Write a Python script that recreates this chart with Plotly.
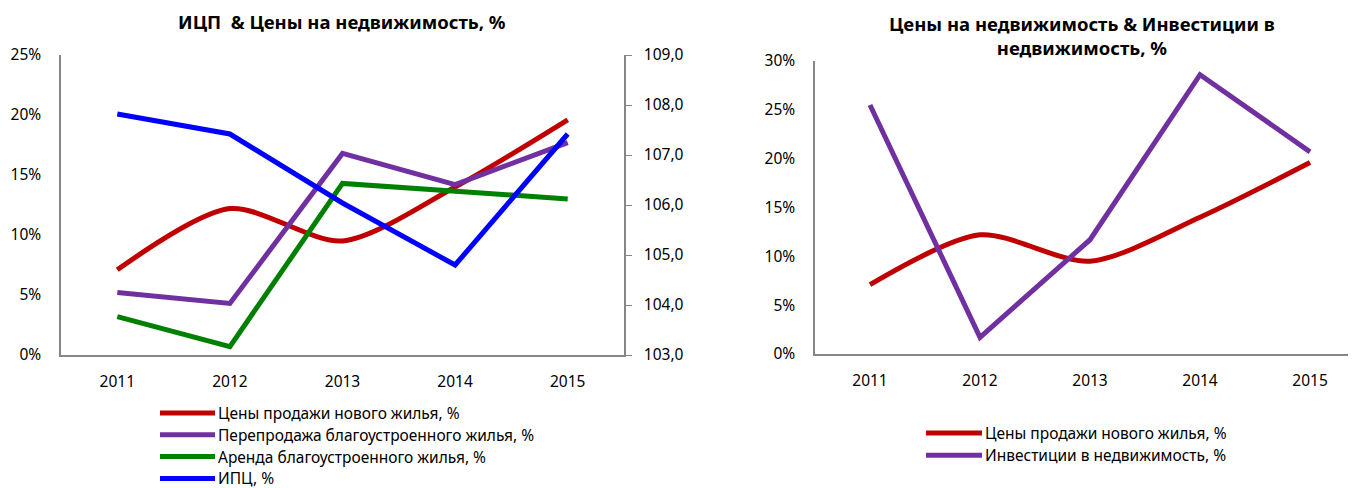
import plotly.graph_objects as go

years = ["2011", "2012", "2013", "2014", "2015"]
new_housing = [7.1, 12.2, 9.5, 14.0, 19.6]
resale = [5.2, 4.3, 16.8, 14.2, 17.7]
rent = [3.2, 0.7, 14.3, 13.7, 13.0]
cpi = [107.82, 107.42, 106.04, 104.80, 107.42]
investment = [25.5, 1.7, 11.7, 28.6, 20.7]

names_left = ["Цены продажи нового жилья, %", "Перепродажа благоустроенного жилья, %",
              "Аренда благоустроенного жилья, %", "ИПЦ, %"]
names_right = ["Цены продажи нового жилья, %", "Инвестиции в недвижимость, %"]

RED = "#C00000"
PURPLE = "#7030A0"
GREEN = "#008000"
BLUE = "#0000FF"
AX = "#868686"
FONT = "Noto Sans"

# the page body has an 8px margin; the figure is sized to fill the rest of the window
OFF = 8
W, H = 1356 - OFF, 488 - OFF

def px(x):
    return (x - OFF) / W

def py(y):
    return 1 - (y - OFF) / H

colors_left = [RED, PURPLE, GREEN, BLUE]
colors_right = [RED, PURPLE]

fig = go.Figure()
fig.add_trace(go.Scatter(x=years, y=new_housing, name=names_left[0], mode="lines",
                         line=dict(color=RED, width=5, shape="spline", smoothing=0.8),
                         xaxis="x", yaxis="y"))
fig.add_trace(go.Scatter(x=years, y=resale, name=names_left[1], mode="lines",
                         line=dict(color=PURPLE, width=5), xaxis="x", yaxis="y"))
fig.add_trace(go.Scatter(x=years, y=rent, name=names_left[2], mode="lines",
                         line=dict(color=GREEN, width=5), xaxis="x", yaxis="y"))
fig.add_trace(go.Scatter(x=years, y=cpi, name=names_left[3], mode="lines",
                         line=dict(color=BLUE, width=5), xaxis="x", yaxis="y2"))
fig.add_trace(go.Scatter(x=years, y=new_housing, name=names_right[0], mode="lines",
                         line=dict(color=RED, width=5, shape="spline", smoothing=0.8),
                         xaxis="x3", yaxis="y3"))
fig.add_trace(go.Scatter(x=years, y=investment, name=names_right[1], mode="lines",
                         line=dict(color=PURPLE, width=5), xaxis="x3", yaxis="y3"))

tick_font = dict(family=FONT, size=15.5, color="#000000")

# custom legends (sample line + label) in paper coordinates
shapes = []
annotations = []
def add_legend(names, colors, x0, x1, xt, y_first, step):
    for i, (n, c) in enumerate(zip(names, colors)):
        yy = py(y_first + i * step)
        shapes.append(dict(type="line", xref="paper", yref="paper", x0=px(x0), x1=px(x1),
                           y0=yy, y1=yy, line=dict(color=c, width=5)))
        annotations.append(dict(text=n, xref="paper", yref="paper", x=px(xt), y=yy,
                                xanchor="left", yanchor="middle", showarrow=False,
                                font=dict(family=FONT, size=15.5, color="#000000")))

add_legend(names_left, colors_left, 160, 215, 216, 413, 21.8)
add_legend(names_right, colors_right, 926, 982, 983, 433, 22.3)

annotations.append(dict(text="<b>ИЦП  & Цены на недвижимость, %</b>", xref="paper", yref="paper",
                        x=px(342), y=py(21), xanchor="center", yanchor="middle", showarrow=False,
                        font=dict(family=FONT, size=18.5, color="#000000")))
annotations.append(dict(text="<b>Цены на недвижимость & Инвестиции в<br>недвижимость, %</b>",
                        xref="paper", yref="paper", x=px(1082), y=py(35),
                        xanchor="center", yanchor="middle", showarrow=False,
                        font=dict(family=FONT, size=18.5, color="#000000")))

fig.update_layout(
    width=W, height=H,
    margin=dict(l=0, r=0, t=0, b=0, pad=0, autoexpand=False),
    paper_bgcolor="white", plot_bgcolor="white",
    separators=", ",
    font=dict(family=FONT, size=15.5, color="#000000"),
    showlegend=False,
    xaxis=dict(domain=[px(61), px(624)], type="category", range=[-0.5, 4.5],
               showline=True, linecolor=AX, linewidth=1.5, ticks="", showgrid=False,
               tickfont=tick_font, ticklabelstandoff=12, anchor="y", automargin=False),
    yaxis=dict(domain=[py(355), py(55)], range=[0, 25], dtick=5, ticksuffix="%",
               showline=True, linecolor=AX, linewidth=1.5, ticks="", showgrid=False,
               zeroline=False, tickfont=tick_font, ticklabelstandoff=15, anchor="x", automargin=False),
    yaxis2=dict(overlaying="y", side="right", range=[103, 109], dtick=1, tickformat=".1f",
                showline=True, linecolor=AX, linewidth=1.5, ticks="outside", ticklen=6,
                tickcolor=AX, showgrid=False, zeroline=False, tickfont=tick_font,
                ticklabelstandoff=9, anchor="x", automargin=False),
    xaxis3=dict(domain=[px(815), 1.0], type="category", range=[-0.5, 4.418],
                showline=True, linecolor=AX, linewidth=1.5, ticks="", showgrid=False,
                tickfont=tick_font, ticklabelstandoff=12, anchor="y3", automargin=False),
    yaxis3=dict(domain=[py(354), py(61)], range=[0, 30], dtick=5, ticksuffix="%",
                showline=True, linecolor=AX, linewidth=1.5, ticks="", showgrid=False,
                zeroline=False, tickfont=tick_font, ticklabelstandoff=15, anchor="x3", automargin=False),
    shapes=shapes,
    annotations=annotations,
)

fig.write_html("out.html")
